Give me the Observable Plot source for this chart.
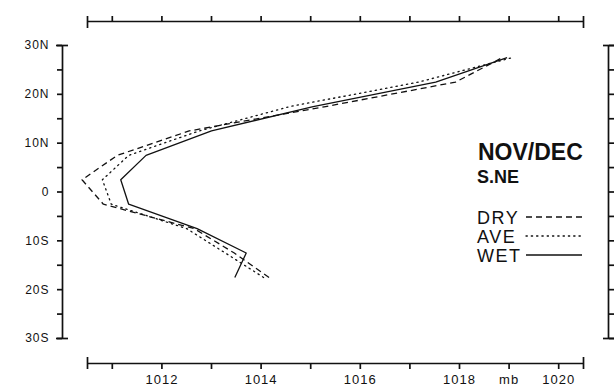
<!DOCTYPE html>
<html>
<head>
<meta charset="utf-8">
<script src="https://cdn.jsdelivr.net/npm/d3@7"></script>
<script src="https://cdn.jsdelivr.net/npm/@observablehq/plot@0.6"></script>
<style>
  html, body { margin: 0; padding: 0; background: #fff; }
  #wrap { position: relative; width: 614px; height: 390px; }
  #wrap svg text { font-family: "Liberation Sans", Arial, sans-serif; }
  #wrap [aria-label$="tick label"] text { letter-spacing: 1px; }
  #legend { position: absolute; left: 0; top: 0; pointer-events: none; }
</style>
</head>
<body>
<div id="wrap"></div>
<script>
// ---- data ----
const latitudes = [-17.5, -12.5, -7.5, -2.5, 2.5, 7.5, 12.5, 17.5, 22.5, 27.5];
const dry = [1014.16, 1013.46, 1012.65, 1010.82, 1010.39, 1011.10, 1012.55, 1015.30, 1017.92, 1018.86];
const ave = [1014.05, 1013.28, 1012.50, 1010.98, 1010.80, 1011.33, 1012.75, 1014.58, 1017.17, 1019.06];
const wet = [1013.47, 1013.70, 1012.71, 1011.33, 1011.17, 1011.68, 1013.00, 1015.05, 1017.52, 1018.96];

const seriesNames = ["DRY", "AVE", "WET"];
const seriesDash = ["6,4", "1.3,4", null];

const xTicks = [1011, 1012, 1013, 1014, 1015, 1016, 1017, 1018, 1019, 1020];
const xTickLabels = ["", "1012", "", "1014", "", "1016", "", "1018", "mb", "1020"];
const yTicks = [-30, -25, -20, -15, -10, -5, 0, 5, 10, 15, 20, 25, 30];
const yTickLabels = ["30S", "", "20S", "", "10S", "", "0", "", "10N", "", "20N", "", "30N"];

const title = "NOV/DEC";
const subtitle = "S.NE";

const xDomain = [1010.5, 1020.5];
const yDomain = [-30, 30];

// ---- build ----
const xLab = new Map(xTicks.map((t, i) => [t, xTickLabels[i]]));
const yLab = new Map(yTicks.map((t, i) => [t, yTickLabels[i]]));
const seriesValues = [dry, ave, wet];
const rows = seriesValues.map((vals, s) =>
  latitudes.map((lat, i) => ({series: seriesNames[s], lat, p: vals[i]})));

const ink = "#111";
const sw = 1.7;

const lineMarks = rows.map((r, s) =>
  Plot.line(r, {x: "p", y: "lat", stroke: ink, strokeWidth: 1.3,
    strokeDasharray: seriesDash[s] || undefined, strokeLinecap: s === 1 ? "round" : "butt"}));

const chart = Plot.plot({
  width: 614,
  height: 390,
  marginLeft: 87,
  marginRight: 31,
  marginTop: 45,
  marginBottom: 52,
  x: {domain: xDomain, label: null},
  y: {domain: yDomain, label: null},
  style: {background: "transparent", color: ink},
  marks: [
    // detached axis lines
    Plot.ruleY([yDomain[0]], {dy: 25, stroke: ink, strokeWidth: sw}),
    Plot.ruleY([yDomain[1]], {dy: -24, stroke: ink, strokeWidth: sw}),
    Plot.ruleX([xDomain[0]], {dx: -25, stroke: ink, strokeWidth: sw}),
    Plot.ruleX([xDomain[1]], {dx: 25, stroke: ink, strokeWidth: sw}),
    // bottom axis
    Plot.axisX(xTicks, {anchor: "bottom", tickSize: 6, dy: 25, tickPadding: 5, fontSize: 13,
      strokeWidth: sw, tickFormat: d => xLab.get(d)}),
    Plot.axisX(xDomain, {anchor: "bottom", tickSize: 12, dy: 19, strokeWidth: sw, tickFormat: () => ""}),
    // top axis
    Plot.axisX(xTicks, {anchor: "top", tickSize: 6, dy: -24, strokeWidth: sw, tickFormat: () => ""}),
    Plot.axisX(xDomain, {anchor: "top", tickSize: 12, dy: -18, strokeWidth: sw, tickFormat: () => ""}),
    // left axis
    Plot.axisY(yTicks, {anchor: "left", tickSize: 5, dx: -25, tickPadding: 8, fontSize: 12,
      strokeWidth: sw, tickFormat: d => yLab.get(d)}),
    Plot.axisY(yDomain, {anchor: "left", tickSize: 12, dx: -19, strokeWidth: sw, tickFormat: () => ""}),
    // right axis
    Plot.axisY(yTicks, {anchor: "right", tickSize: 6, dx: 25, strokeWidth: sw, tickFormat: () => ""}),
    Plot.axisY(yDomain, {anchor: "right", tickSize: 12, dx: 19, strokeWidth: sw, tickFormat: () => ""}),
    ...lineMarks
  ]
});

const wrap = document.getElementById("wrap");
wrap.appendChild(chart);

// ---- legend / annotation overlay ----
const NS = "http://www.w3.org/2000/svg";
const leg = document.createElementNS(NS, "svg");
leg.setAttribute("id", "legend");
leg.setAttribute("width", 614);
leg.setAttribute("height", 390);
function txt(x, y, s, size, weight, ls) {
  const t = document.createElementNS(NS, "text");
  t.setAttribute("x", x); t.setAttribute("y", y);
  t.setAttribute("font-size", size);
  t.setAttribute("font-weight", weight);
  t.setAttribute("fill", ink);
  if (ls) t.setAttribute("letter-spacing", ls);
  t.textContent = s;
  leg.appendChild(t);
}
txt(478, 160, title, 23, "bold");
txt(477, 183, subtitle, 18, "bold");
const rowBase = [224, 243, 262];
seriesNames.forEach((name, i) => {
  txt(477, rowBase[i], name, 18, "normal", 1.5);
  const l = document.createElementNS(NS, "line");
  l.setAttribute("x1", 526); l.setAttribute("x2", 582);
  l.setAttribute("y1", rowBase[i] - 7); l.setAttribute("y2", rowBase[i] - 7);
  l.setAttribute("stroke", ink);
  l.setAttribute("stroke-width", 1.3);
  if (seriesDash[i]) l.setAttribute("stroke-dasharray", seriesDash[i]);
  if (i === 1) l.setAttribute("stroke-linecap", "round");
  leg.appendChild(l);
});
wrap.appendChild(leg);
</script>
</body>
</html>
